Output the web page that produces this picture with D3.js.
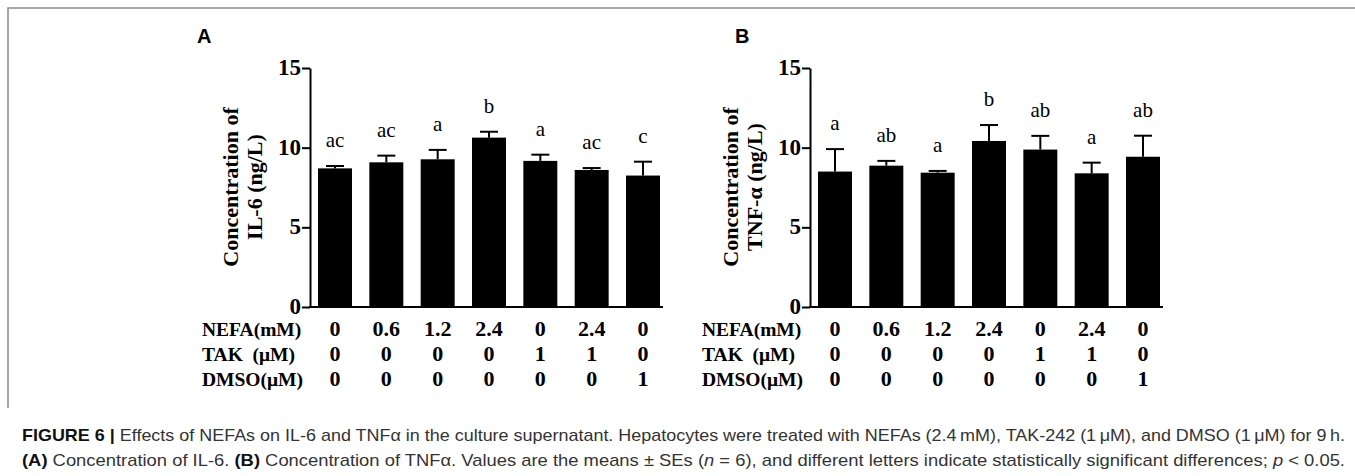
<!DOCTYPE html>
<html>
<head>
<meta charset="utf-8">
<script src="https://cdn.jsdelivr.net/npm/d3@7"></script>
<style>
  body { margin: 0; background: #fff; }
  svg { display: block; }
</style>
</head>
<body>
<script>
// values
var nefa = ["0", "0.6", "1.2", "2.4", "0", "2.4", "0"];
var tak = ["0", "0", "0", "0", "1", "1", "0"];
var dmso = ["0", "0", "0", "0", "0", "0", "1"];
var rowNames = ["NEFA(mM)", "TAK  (\u03bcM)", "DMSO(\u03bcM)"];

var il6Mean = [8.7, 9.08, 9.27, 10.63, 9.17, 8.6, 8.25];
var il6Se = [0.15, 0.42, 0.59, 0.37, 0.39, 0.12, 0.87];
var il6Letters = ["ac", "ac", "a", "b", "a", "ac", "c"];

var tnfMean = [8.5, 8.87, 8.43, 10.42, 9.88, 8.39, 9.43];
var tnfSe = [1.41, 0.3, 0.11, 1.0, 0.86, 0.67, 1.32];
var tnfLetters = ["a", "ab", "a", "b", "ab", "a", "ab"];

var yTicks = [0, 5, 10, 15];

var W = 1355, H = 476;
var serif = "'Liberation Serif', 'Times New Roman', serif";
var sans = "'Liberation Sans', Arial, sans-serif";

var svg = d3.select("body").append("svg").attr("width", W).attr("height", H);

// frame
svg.append("path")
    .attr("d", "M8,408 L8,8 L" + W + ",8")
    .attr("fill", "none")
    .attr("stroke", "#8a8a8a")
    .attr("stroke-width", 1.5);

function panel(dx, letter, letterX, title2, means, ses, letters) {
    var g = svg.append("g");
    var axisX = 310 + dx;

    var x = d3.scaleBand()
        .domain(d3.range(means.length))
        .range([axisX, axisX + 358])
        .paddingInner(0.338)
        .paddingOuter(0.156);
    var y = d3.scaleLinear().domain([0, 15]).range([307, 68]);

    // bars
    g.selectAll("rect.bar").data(means).enter().append("rect")
        .attr("class", "bar")
        .attr("x", function(d, i) { return x(i); })
        .attr("y", function(d) { return y(d); })
        .attr("width", x.bandwidth())
        .attr("height", function(d) { return y(0) - y(d); })
        .attr("fill", "#000");

    // error bars (upper half)
    var eb = g.selectAll("g.err").data(means).enter().append("g").attr("class", "err");
    eb.append("line")
        .attr("x1", function(d, i) { return x(i) + x.bandwidth() / 2; })
        .attr("x2", function(d, i) { return x(i) + x.bandwidth() / 2; })
        .attr("y1", function(d) { return y(d); })
        .attr("y2", function(d, i) { return y(d + ses[i]); })
        .attr("stroke", "#000").attr("stroke-width", 2);
    eb.append("line")
        .attr("x1", function(d, i) { return x(i) + x.bandwidth() / 2 - 9; })
        .attr("x2", function(d, i) { return x(i) + x.bandwidth() / 2 + 9; })
        .attr("y1", function(d, i) { return y(d + ses[i]); })
        .attr("y2", function(d, i) { return y(d + ses[i]); })
        .attr("stroke", "#000").attr("stroke-width", 2);

    // significance letters
    g.selectAll("text.sig").data(letters).enter().append("text")
        .attr("class", "sig")
        .attr("x", function(d, i) { return x(i) + x.bandwidth() / 2; })
        .attr("y", function(d, i) { return y(means[i] + ses[i]) - 19; })
        .attr("text-anchor", "middle")
        .attr("font-family", serif)
        .attr("font-size", 21)
        .text(function(d) { return d; });

    // y axis
    var yAxis = d3.axisLeft(y).tickValues(yTicks).tickSize(8).tickSizeOuter(0).tickPadding(1);
    var ya = g.append("g").attr("transform", "translate(" + axisX + ",0)").call(yAxis);
    ya.select(".domain").attr("stroke-width", 2);
    ya.selectAll(".tick line").attr("stroke-width", 2);
    ya.selectAll(".tick text")
        .attr("font-family", serif)
        .attr("font-size", 23)
        .attr("font-weight", "bold")
        .attr("dy", "0.28em")
        .attr("fill", "#000");

    // x axis line
    var last = means.length - 1;
    g.append("line")
        .attr("x1", axisX - 1).attr("x2", x(last) + x.bandwidth() + 3)
        .attr("y1", y(0)).attr("y2", y(0))
        .attr("stroke", "#000").attr("stroke-width", 2);

    // y title
    var t = g.append("text")
        .attr("transform", "translate(0,187) rotate(-90)")
        .attr("text-anchor", "middle")
        .attr("font-family", serif)
        .attr("font-size", 22)
        .attr("font-weight", "bold");
    t.append("tspan").attr("x", 0).attr("y", 238 + dx).text("Concentration of");
    t.append("tspan").attr("x", 0).attr("y", 262 + dx).text(title2);

    // treatment table
    var rows = [nefa, tak, dmso];
    var baselines = [336, 361, 386];
    rows.forEach(function(r, k) {
        g.append("text")
            .attr("x", 202 + dx).attr("y", baselines[k])
            .attr("font-family", serif).attr("font-size", 19.5).attr("font-weight", "bold")
            .attr("xml:space", "preserve")
            .style("white-space", "pre")
            .text(rowNames[k]);
        g.selectAll("text.r" + k).data(r).enter().append("text")
            .attr("class", "r" + k)
            .attr("x", function(d, i) { return x(i) + x.bandwidth() / 2; })
            .attr("y", baselines[k])
            .attr("text-anchor", "middle")
            .attr("font-family", serif).attr("font-size", 22).attr("font-weight", "bold")
            .text(function(d) { return d; });
    });

    // panel letter
    g.append("text")
        .attr("x", letterX).attr("y", 43)
        .attr("font-family", sans).attr("font-size", 20).attr("font-weight", "bold")
        .text(letter);
}

panel(0, "A", 197, "IL-6 (ng/L)", il6Mean, il6Se, il6Letters);
panel(500, "B", 735, "TNF-\u03b1 (ng/L)", tnfMean, tnfSe, tnfLetters);

// caption
var cap1 = svg.append("text")
    .attr("x", 22).attr("y", 441)
    .attr("font-family", sans).attr("font-size", 17).attr("fill", "#333")
    .attr("textLength", 1323).attr("lengthAdjust", "spacingAndGlyphs");
cap1.append("tspan").attr("font-weight", "bold").attr("fill", "#111").text("FIGURE 6 | ");
cap1.append("tspan").text("Effects of NEFAs on IL-6 and TNF\u03b1 in the culture supernatant. Hepatocytes were treated with NEFAs (2.4\u2009mM), TAK-242 (1\u2009\u03bcM), and DMSO (1\u2009\u03bcM) for 9\u2009h.");

var cap2 = svg.append("text")
    .attr("x", 22).attr("y", 466)
    .attr("font-family", sans).attr("font-size", 17).attr("fill", "#333")
    .attr("textLength", 1323).attr("lengthAdjust", "spacingAndGlyphs");
cap2.append("tspan").attr("font-weight", "bold").attr("fill", "#111").text("(A)");
cap2.append("tspan").text(" Concentration of IL-6. ");
cap2.append("tspan").attr("font-weight", "bold").attr("fill", "#111").text("(B)");
cap2.append("tspan").text(" Concentration of TNF\u03b1. Values are the means \u00b1 SEs (");
cap2.append("tspan").attr("font-style", "italic").text("n");
cap2.append("tspan").text(" = 6), and different letters indicate statistically significant differences; ");
cap2.append("tspan").attr("font-style", "italic").text("p");
cap2.append("tspan").text(" < 0.05.");
</script>
</body>
</html>
